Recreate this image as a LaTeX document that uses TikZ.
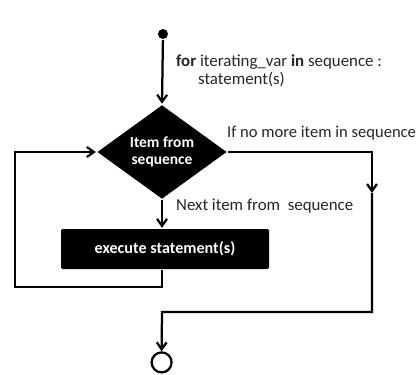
\documentclass[tikz,border=0pt]{standalone}
\usepackage{fontspec}
\setmainfont{Carlito}
\usetikzlibrary{shapes.geometric,arrows.meta}
\begin{document}
\begin{tikzpicture}[>={Straight Barb[length=5pt,width=7pt]}, line width=1.6pt,
  decision/.style={diamond, fill=black, text=white, font=\bfseries\fontsize{11}{12}\selectfont, align=center,
    minimum width=3.25cm, minimum height=2.2cm, inner sep=0pt},
  process/.style={rectangle, fill=black, text=white, font=\bfseries\fontsize{11.5}{13}\selectfont, rounded corners=1pt,
    minimum width=5.2cm, minimum height=1cm},
  note/.style={anchor=west, font=\fontsize{12}{13}\selectfont, text=black!85, inner sep=0pt}]
\useasboundingbox (0,0) rectangle (10.425,9.35);
% Noeuds
\node [circle, fill=black, inner sep=0pt, minimum size=0.25cm] (start) at (4.075,8.5) {};
\node [decision] (test) at (4.05,5.55) {Item from\\sequence};
\node [process] (body) at (4.125,3.125) {execute statement(s)};
\node [circle, draw, line width=1.6pt, inner sep=0pt, minimum size=0.5cm] (stop) at (4.04,0.29) {};
% Points de passage
\coordinate (loopA) at (4.05,2.175);
\coordinate (loopB) at (0.375,2.175);
\coordinate (loopC) at (0.375,5.55);
\coordinate (exitA) at (9.3,5.55);
\coordinate (exitB) at (9.3,4.525);
\coordinate (exitC) at (9.3,1.55);
\coordinate (exitD) at (4.05,1.55);
% Fleches
\draw [->] (start) -- (test.north);
\draw [->] (test.south) -- (body.north -| test.south);
\draw [->] (body.south -| loopA) -- (loopA) -- (loopB) -- (loopC) -- (test.west);
\draw [->] (test.east) -- (exitA) -- (exitB);
\draw [->] (exitB) -- (exitC) -- (exitD) -- (stop.north);
% Textes
\node [note] (forline) at (4.375,7.8) {\textbf{for} iterating\_var \textbf{in} sequence :};
\node [note] (stmt) at (4.925,7.35) {statement(s)};
\node [note, font=\fontsize{11.8}{13}\selectfont] (nomore) at (5.65,6.025) {If no more item in sequence};
\node [note] (nextitem) at (4.375,4.2) {Next item from\ \ sequence};
\end{tikzpicture}
\end{document}
